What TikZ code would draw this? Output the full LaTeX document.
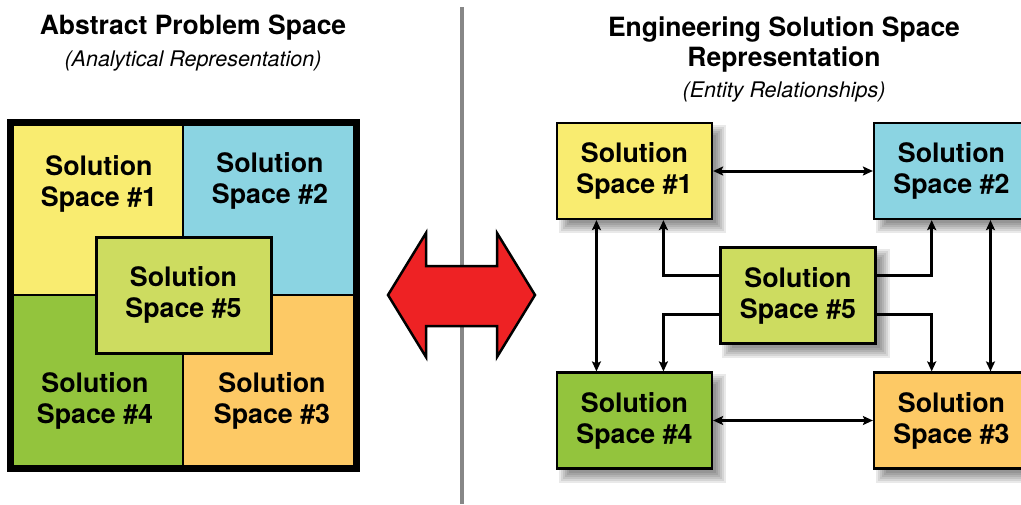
\documentclass[tikz,border=0pt]{standalone}
\usepackage{fontspec}
\setsansfont{TeX Gyre Heros}
\usetikzlibrary{arrows.meta,calc,backgrounds}

\definecolor{ssyellow}{HTML}{F9EC70}
\definecolor{sscyan}{HTML}{8BD4E2}
\definecolor{ssorange}{HTML}{FDC965}
\definecolor{ssgreen}{HTML}{93C43D}
\definecolor{sslime}{HTML}{CDDC60}
\definecolor{bigred}{HTML}{EE2224}

\tikzset{
  boxtext/.style={align=center,font=\sffamily\bfseries\fontsize{26.8}{31}\selectfont},
  title/.style={align=center,font=\sffamily\bfseries\fontsize{26.5}{30}\selectfont},
  subtitle/.style={align=center,font=\sffamily\itshape\fontsize{21.5}{24}\selectfont},
  entity/.style={boxtext,draw=black,line width=2.2pt,minimum width=155pt,minimum height=96pt,inner sep=0pt},
  shadowlayer/.style={fill=black,fill opacity=0.085},
  headtip/.tip={Stealth[length=10pt,width=9pt,inset=2pt]},
}

\begin{document}
\begin{tikzpicture}[x=1pt,y=-1pt]
\useasboundingbox (0,0) rectangle (1021,504);
\clip (0,0) rectangle (1021,504);

% divider between the two halves
\draw[line width=4pt,color=black!47] (462,7) -- (462,504);

% ---------- left half: analytical representation ----------
\node[title] (ltitle) at (193,28) {Abstract Problem Space};
\node[subtitle] (lsub) at (193,61) {(Analytical Representation)};

\fill[ssyellow] (10.5,122.5) rectangle (183,295);
\fill[sscyan]   (183,122.5) rectangle (356.5,295);
\fill[ssgreen]  (10.5,295) rectangle (183,468.5);
\fill[ssorange] (183,295) rectangle (356.5,468.5);
\draw[line width=2pt] (183,122.5) -- (183,468.5);
\draw[line width=2pt] (10.5,295) -- (356.5,295);
\draw[line width=7pt] (10.5,122.5) rectangle (356.5,468.5);

\node[boxtext] (q1) at (99,184) {Solution\\Space \#1};
\node[boxtext] (q2) at (270,181) {Solution\\Space \#2};
\node[boxtext] (q4) at (95,401) {Solution\\Space \#4};
\node[boxtext] (q3) at (272,401) {Solution\\Space \#3};
\node[boxtext,draw=black,fill=sslime,line width=3pt,minimum width=175pt,minimum height=116pt,inner sep=0pt]
  (q5) at (183.5,295) {Solution\\Space \#5};

% ---------- central double arrow ----------
\filldraw[fill=bigred,draw=black,line width=2.5pt,line join=miter]
  (388,295) -- (426,233) -- (426,266) -- (497,266) -- (497,233) -- (535,295)
  -- (497,357) -- (497,326) -- (426,326) -- (426,357) -- cycle;

% ---------- right half: entity relationships ----------
\node[title] (rtitle) at (784,45) {Engineering Solution Space\\Representation};
\node[subtitle] (rsub) at (784,92) {(Entity Relationships)};

\node[entity,fill=ssyellow] (b1) at (634.5,171) {Solution\\Space \#1};
\node[entity,fill=sscyan]   (b2) at (951.5,171) {Solution\\Space \#2};
\node[entity,fill=sslime]   (b5) at (798,295.5) {Solution\\Space \#5};
\node[entity,fill=ssgreen]  (b4) at (634.5,420.5) {Solution\\Space \#4};
\node[entity,fill=ssorange] (b3) at (951.5,420.5) {Solution\\Space \#3};

% soft drop shadows behind the entity boxes
\begin{scope}[on background layer]
  \foreach \n in {b1,b2,b3,b4,b5}
    \foreach \d in {-5,-3,-1,1,3,5}
      \fill[shadowlayer] ([shift={(8+\d,8+\d)}]\n.north west) rectangle ([shift={(8-\d,8-\d)}]\n.south east);
\end{scope}

% relationships between the entities
\begin{scope}[line width=3pt]
\draw[headtip-headtip] (b1.east) -- (b2.west);
\draw[headtip-headtip] (b4.east) -- (b3.west);
\draw[headtip-headtip] ($(b1.south west)!0.258!(b1.south east)$) -- ($(b4.north west)!0.258!(b4.north east)$);
\draw[headtip-headtip] ($(b2.south west)!0.748!(b2.south east)$) -- ($(b3.north west)!0.748!(b3.north east)$);

\draw[-headtip] ($(b5.north west)!0.3!(b5.south west)$) -| ($(b1.south west)!0.684!(b1.south east)$);
\draw[-headtip] ($(b5.north west)!0.69!(b5.south west)$) -| ($(b4.north west)!0.684!(b4.north east)$);
\draw[-headtip] ($(b5.north east)!0.3!(b5.south east)$) -| ($(b2.south west)!0.374!(b2.south east)$);
\draw[-headtip] ($(b5.north east)!0.69!(b5.south east)$) -| ($(b3.north west)!0.374!(b3.north east)$);
\end{scope}
\end{tikzpicture}
\end{document}
